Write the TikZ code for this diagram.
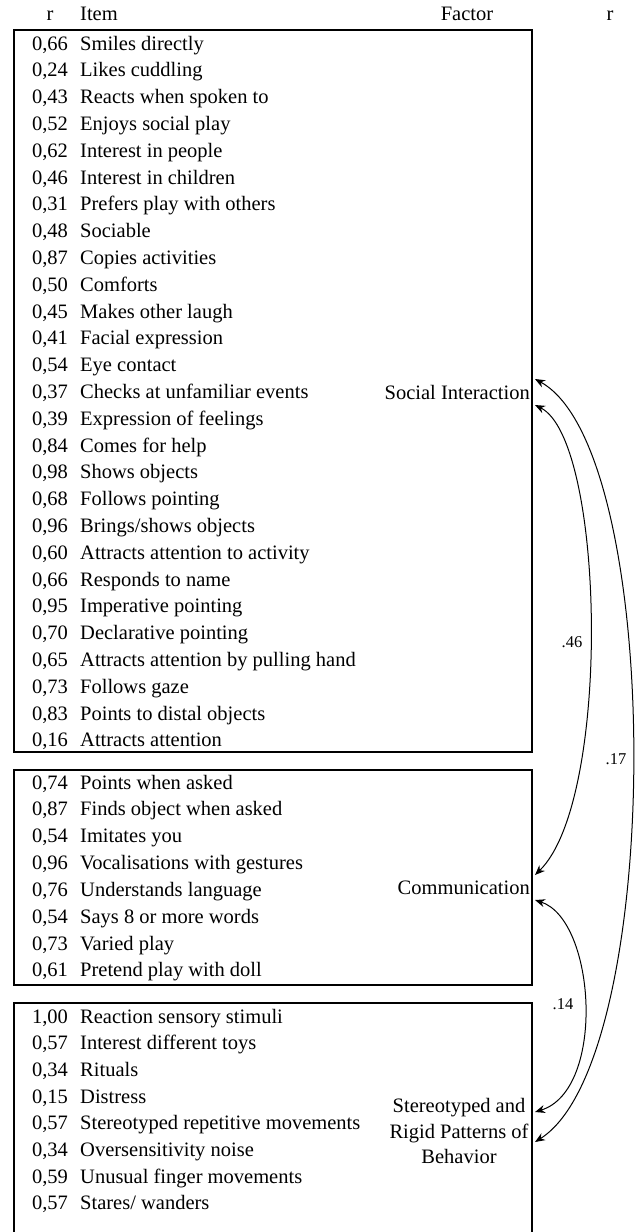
\documentclass[tikz,border=0pt]{standalone}
\usepackage{fontspec}
\setmainfont{Liberation Serif}
\usetikzlibrary{arrows.meta}
\newcommand\itemrow[4]{%
  \node[rval] (r#1) at (50,#2+7) {#3};
  \node[itemtxt] (t#1) at (80,#2+7) {#4};}
\begin{document}
\begin{tikzpicture}[x=1pt,y=-1pt,
  font=\fontsize{20.5}{24}\selectfont,
  rval/.style={anchor=base,inner sep=0pt},
  itemtxt/.style={anchor=base west,inner sep=0pt},
  boxline/.style={line width=2.4pt},
  corr/.style={line width=1pt,{Stealth[length=10pt,width=8pt]}-{Stealth[length=10pt,width=8pt]}},
  factor/.style={inner sep=0pt},
  clab/.style={inner sep=0pt,font=\fontsize{16.5}{20}\selectfont}]
\useasboundingbox (0,0) rectangle (635,1232);
% header
\node[rval] (hr) at (50,20) {r};
\node[itemtxt] (hitem) at (80,20) {Item};
\node[rval] (hfactor) at (467,20) {Factor};
\node[rval] (hr2) at (610,20) {r};
% boxes
\draw[boxline] (14,30) rectangle (532,752);
\draw[boxline] (14,770) rectangle (532,985);
\draw[boxline] (14,1245) -- (14,1003) -- (532,1003) -- (532,1245);
% box 1
\itemrow{a1}{43+26.8*0}{0,66}{Smiles directly}
\itemrow{a2}{43+26.8*1}{0,24}{Likes cuddling}
\itemrow{a3}{43+26.8*2}{0,43}{Reacts when spoken to}
\itemrow{a4}{43+26.8*3}{0,52}{Enjoys social play}
\itemrow{a5}{43+26.8*4}{0,62}{Interest in people}
\itemrow{a6}{43+26.8*5}{0,46}{Interest in children}
\itemrow{a7}{43+26.8*6}{0,31}{Prefers play with others}
\itemrow{a8}{43+26.8*7}{0,48}{Sociable}
\itemrow{a9}{43+26.8*8}{0,87}{Copies activities}
\itemrow{a10}{43+26.8*9}{0,50}{Comforts}
\itemrow{a11}{43+26.8*10}{0,45}{Makes other laugh}
\itemrow{a12}{43+26.8*11}{0,41}{Facial expression}
\itemrow{a13}{43+26.8*12}{0,54}{Eye contact}
\itemrow{a14}{43+26.8*13}{0,37}{Checks at unfamiliar events}
\itemrow{a15}{43+26.8*14}{0,39}{Expression of feelings}
\itemrow{a16}{43+26.8*15}{0,84}{Comes for help}
\itemrow{a17}{43+26.8*16}{0,98}{Shows objects}
\itemrow{a18}{43+26.8*17}{0,68}{Follows pointing}
\itemrow{a19}{43+26.8*18}{0,96}{Brings/shows objects}
\itemrow{a20}{43+26.8*19}{0,60}{Attracts attention to activity}
\itemrow{a21}{43+26.8*20}{0,66}{Responds to name}
\itemrow{a22}{43+26.8*21}{0,95}{Imperative pointing}
\itemrow{a23}{43+26.8*22}{0,70}{Declarative pointing}
\itemrow{a24}{43+26.8*23}{0,65}{Attracts attention by pulling hand}
\itemrow{a25}{43+26.8*24}{0,73}{Follows gaze}
\itemrow{a26}{43+26.8*25}{0,83}{Points to distal objects}
\itemrow{a27}{43+26.8*26}{0,16}{Attracts attention}
% box 2
\itemrow{b1}{782+26.85*0}{0,74}{Points when asked}
\itemrow{b2}{782+26.85*1}{0,87}{Finds object when asked}
\itemrow{b3}{782+26.85*2}{0,54}{Imitates you}
\itemrow{b4}{782+26.85*3}{0,96}{Vocalisations with gestures}
\itemrow{b5}{782+26.85*4}{0,76}{Understands language}
\itemrow{b6}{782+26.85*5}{0,54}{Says 8 or more words}
\itemrow{b7}{782+26.85*6}{0,73}{Varied play}
\itemrow{b8}{782+26.85*7}{0,61}{Pretend play with doll}
% box 3
\itemrow{c1}{1016+26.7*0}{1,00}{Reaction sensory stimuli}
\itemrow{c2}{1016+26.7*1}{0,57}{Interest different toys}
\itemrow{c3}{1016+26.7*2}{0,34}{Rituals}
\itemrow{c4}{1016+26.7*3}{0,15}{Distress}
\itemrow{c5}{1016+26.7*4}{0,57}{Stereotyped repetitive movements}
\itemrow{c6}{1016+26.7*5}{0,34}{Oversensitivity noise}
\itemrow{c7}{1016+26.7*6}{0,59}{Unusual finger movements}
\itemrow{c8}{1016+26.7*7}{0,57}{Stares/ wanders}
% factors
\node[factor,anchor=east] (si) at (530,392) {Social Interaction};
\node[factor,anchor=east] (comm) at (530,888) {Communication};
\node[factor,align=center,font=\fontsize{20.5}{25.5}\selectfont] (srp) at (459,1131) {Stereotyped and\\Rigid Patterns of\\Behavior};
% arrow ends
\coordinate (si1) at (535,379);
\coordinate (si2) at (535,405);
\coordinate (cm1) at (535,875);
\coordinate (cm2) at (535,900);
\coordinate (sr1) at (535,1112);
\coordinate (sr2) at (535,1142);
% correlations
\draw[corr] (si2) .. controls (605,440) and (612,800) .. (cm1);
\draw[corr] (si1) .. controls (665,450) and (665,1060) .. (sr2);
\draw[corr] (cm2) .. controls (596,920) and (606,1090) .. (sr1);
\node[clab] (c46) at (572,642) {.46};
\node[clab] (c17) at (616,759) {.17};
\node[clab] (c14) at (563,1004) {.14};
\end{tikzpicture}
\end{document}
